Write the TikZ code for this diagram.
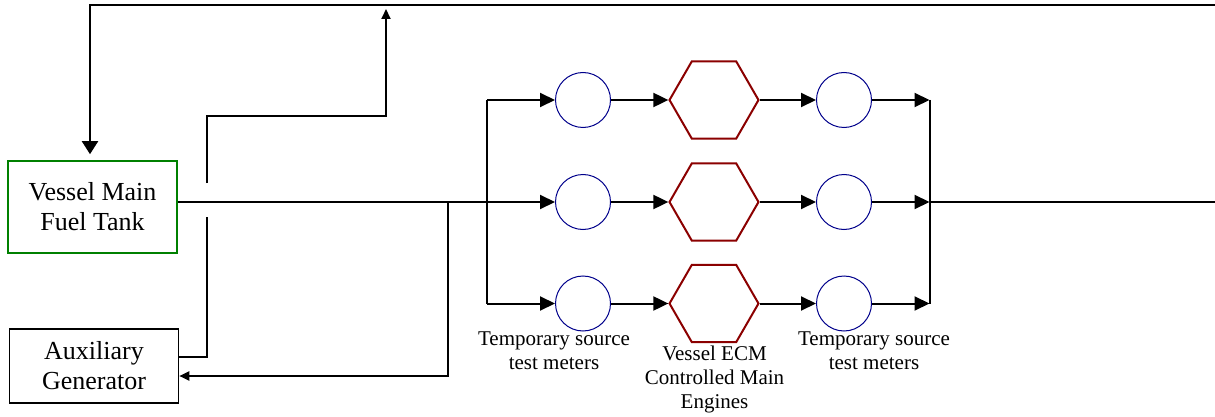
\documentclass[tikz,border=0pt]{standalone}
\usepackage{fontspec}
\setmainfont{Liberation Serif}
\usetikzlibrary{shapes.geometric,arrows.meta}
\definecolor{tankgreen}{RGB}{0,128,0}
\definecolor{hexred}{RGB}{139,0,0}
\definecolor{metblue}{RGB}{0,0,139}
\begin{document}
\begin{tikzpicture}[x=0.5pt,y=-0.5pt,
  line/.style={line width=1pt},
  arr/.style={line, -{Triangle[length=7.5pt,width=7pt]}},
  smallarr/.style={line, -{Triangle[length=5pt,width=4.5pt]}},
  box/.style={draw, line width=0.8pt, minimum width=84.5pt, inner sep=0pt, align=center, font=\fontsize{13}{15}\selectfont},
  meter/.style={circle, draw=metblue, line width=0.5pt, minimum size=27.5pt, inner sep=0pt},
  engine/.style={regular polygon, regular polygon sides=6, draw=hexred, line width=1pt, minimum size=44.5pt, inner sep=0pt},
  lbl/.style={align=center, font=\fontsize{10.5}{12}\selectfont}]
\useasboundingbox (0,0) rectangle (1215,417);

% boxes
\node[box, draw=tankgreen, minimum height=46pt] (tank) at (92.5,207) {Vessel Main\\Fuel Tank};
\node[box, minimum height=37pt] (aux) at (94,366) {Auxiliary\\Generator};

% meters and engines
\foreach \r/\y in {1/100,2/202,3/303.5}{
  \node[meter] (ma\r) at (583,\y) {};
  \node[engine] (e\r) at (714,\y) {};
  \node[meter] (mb\r) at (844,\y) {};
  \coordinate (bl\r) at (487,\y);
  \coordinate (br\r) at (929.5,\y);
}

% labels
\node[lbl] (l1) at (554,351) {Temporary source\\test meters};
\node[lbl] (l2) at (714.5,379) {Vessel ECM\\Controlled Main\\Engines};
\node[lbl] (l3) at (874,351) {Temporary source\\test meters};

% helper coordinates
\coordinate (out) at (1215,202);
\coordinate (topR) at (1215,5);
\coordinate (topL) at (90,5);
\coordinate (jr) at (448,202);
\coordinate (y376) at (0,376);
\coordinate (y357) at (0,357);
\coordinate (bridgeLo) at (207,217);
\coordinate (bridgeHi) at (207,183);
\coordinate (kink) at (207,116);
\coordinate (upTop) at (386,9);

% main feed
\draw[line] (tank.east |- bl2) -- (bl2);
\draw[line] (bl1) -- (bl3);
\draw[line] (br1) -- (br3);
\draw[line] (br2) -- (out);
\foreach \r in {1,2,3}{
  \draw[arr] (bl\r) -- (ma\r);
  \draw[arr] (ma\r) -- (e\r);
  \draw[arr] (e\r) -- (mb\r);
  \draw[arr] (mb\r) -- (br\r);
}

% return to auxiliary generator
\draw[smallarr] (jr) |- (aux.east |- y376);

% auxiliary generator return line (bridging the main line)
\draw[line] (aux.east |- y357) -| (bridgeLo);
\draw[smallarr] (bridgeHi) -- (kink) -| (upTop);

% top return line to tank
\draw[line, -{Triangle[length=6.5pt,width=8pt]}, shorten >=3pt] (topR) -- (topL) -- (topL |- tank.north);
\end{tikzpicture}
\end{document}
